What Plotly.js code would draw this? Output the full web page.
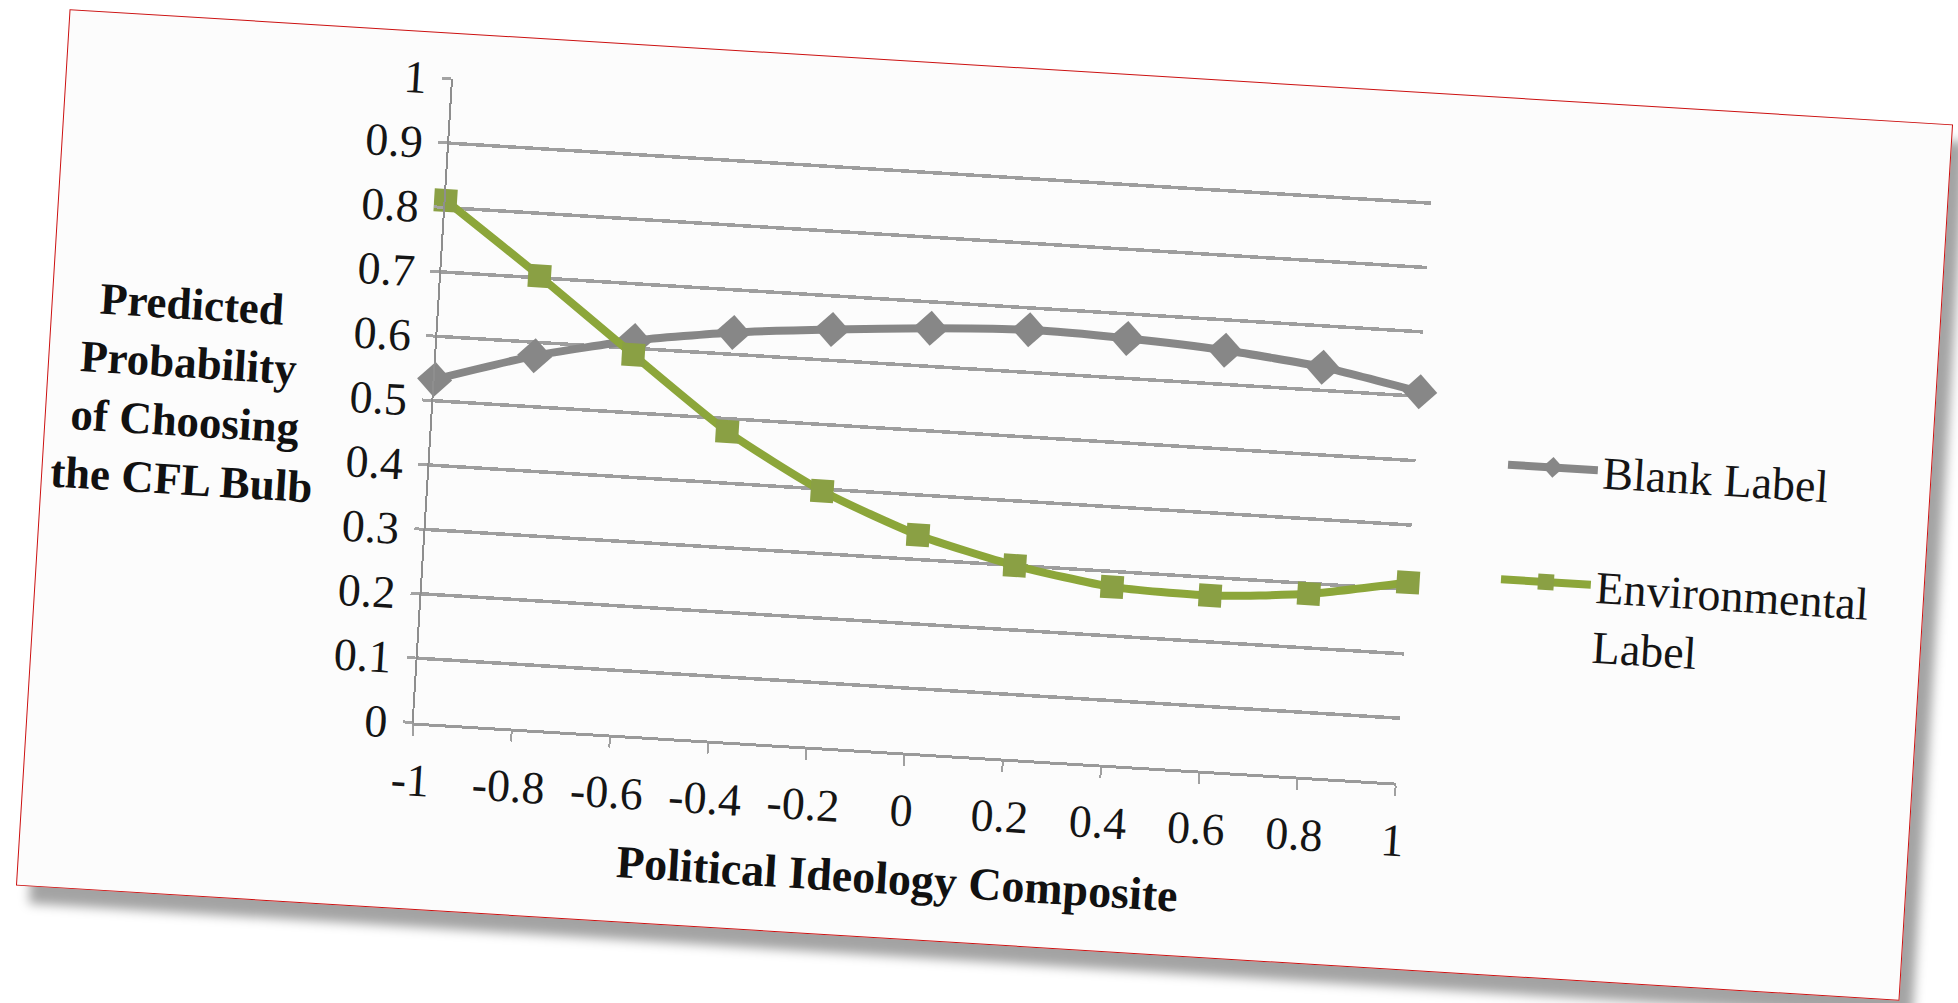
<!DOCTYPE html>
<html>
<head>
<meta charset="utf-8">
<script src="https://cdn.plot.ly/plotly-3.0.1.min.js"></script>
<style>
  html, body { margin:0; padding:0; width:1958px; height:1003px; overflow:hidden; background:#ffffff; }
  #card {
    position:absolute; left:41px; top:66px; width:1887px; height:878px;
    background:#fcfcfc; border:1.5px solid #cc1111; box-sizing:border-box;
    transform:rotate(3.5deg); transform-origin:50% 50%;
    box-shadow: 14px 17px 11px rgba(0,0,0,0.36);
  }
  #chart { position:absolute; left:0; top:0; width:1884px; height:875px; }
</style>
</head>
<body>
<div id="card"><div id="chart"></div></div>
<script>
// ---- data ----
const ideology = [-1, -0.8, -0.6, -0.4, -0.2, 0, 0.2, 0.4, 0.6, 0.8, 1];
const blankLabel = [0.533, 0.579, 0.612, 0.634, 0.648, 0.659, 0.666, 0.662, 0.653, 0.636, 0.607];
const environmentalLabel = [0.811, 0.703, 0.590, 0.480, 0.397, 0.338, 0.300, 0.276, 0.272, 0.284, 0.311];
const xTickVals = [-1, -0.8, -0.6, -0.4, -0.2, 0, 0.2, 0.4, 0.6, 0.8, 1];
const xTickText = ["-1", "-0.8", "-0.6", "-0.4", "-0.2", "0", "0.2", "0.4", "0.6", "0.8", "1"];
const yTickVals = [0, 0.1, 0.2, 0.3, 0.4, 0.5, 0.6, 0.7, 0.8, 0.9, 1];
const yTickText = ["0", "0.1", "0.2", "0.3", "0.4", "0.5", "0.6", "0.7", "0.8", "0.9", "1"];
const seriesNames = ["Blank Label", "Environmental<br>Label"];
const yTitle = "Predicted<br>Probability<br>of Choosing<br>the CFL Bulb";
const xTitle = "Political Ideology Composite";

const FONT = "'Liberation Serif', 'Times New Roman', serif";
const GRAY = "#878787";
const GREEN = "#8ca63a";

const traces = [
  {
    x: ideology, y: blankLabel, name: seriesNames[0], legendgroup: "a",
    mode: "lines+markers", cliponaxis: false,
    line: { color: GRAY, width: 8, shape: "spline", smoothing: 0.6 },
    marker: { symbol: "diamond", size: 27, color: GRAY }
  },
  {
    x: ideology, y: environmentalLabel, name: seriesNames[1], legendgroup: "b",
    mode: "lines+markers", cliponaxis: false,
    line: { color: GREEN, width: 8, shape: "spline", smoothing: 0.6 },
    marker: { symbol: "square", size: 23, color: "#8aa044" }
  }
];

const layout = {
  width: 1884, height: 875,
  paper_bgcolor: "rgba(0,0,0,0)", plot_bgcolor: "rgba(0,0,0,0)",
  margin: { l: 386, r: 514, t: 45, b: 185 },
  font: { family: FONT, size: 46, color: "#151515" },
  showlegend: true,
  legend: {
    x: 1.089, y: 0.559, xanchor: "left", yanchor: "top",
    traceorder: "grouped", tracegroupgap: 52, valign: "top",
    itemwidth: 90,
    font: { family: FONT, size: 46, color: "#151515" },
    bgcolor: "rgba(0,0,0,0)"
  },
  xaxis: {
    range: [-1, 1], tickvals: xTickVals, ticktext: xTickText,
    showgrid: false, zeroline: false,
    showline: true, linecolor: "#9a9a9a", linewidth: 3,
    ticks: "outside", ticklen: 10, tickwidth: 2, tickcolor: "#a0a0a0",
    ticklabelstandoff: 5,
    tickfont: { family: FONT, size: 46, color: "#151515" },
    title: { text: "<b>" + xTitle + "</b>", standoff: 28,
             font: { family: FONT, size: 46, color: "#111" } },
    fixedrange: true
  },
  yaxis: {
    range: [0, 1], tickvals: yTickVals, ticktext: yTickText,
    showgrid: true, gridcolor: "#9e9e9e", gridwidth: 3.5,
    zeroline: false,
    showline: true, linecolor: "#8e8e8e", linewidth: 2,
    ticks: "outside", ticklen: 9, tickwidth: 3, tickcolor: "#a3a3a3",
    ticklabelstandoff: 6,
    tickfont: { family: FONT, size: 46, color: "#151515" },
    fixedrange: true
  },
  annotations: [
    {
      xref: "paper", yref: "paper", x: -0.251, y: 0.49,
      xanchor: "center", yanchor: "middle", showarrow: false,
      text: "<b>" + yTitle + "</b>", align: "center",
      font: { family: FONT, size: 45, color: "#111" }
    }
  ]
};

Plotly.newPlot("chart", traces, layout, { displayModeBar: false, staticPlot: true });
</script>
</body>
</html>
